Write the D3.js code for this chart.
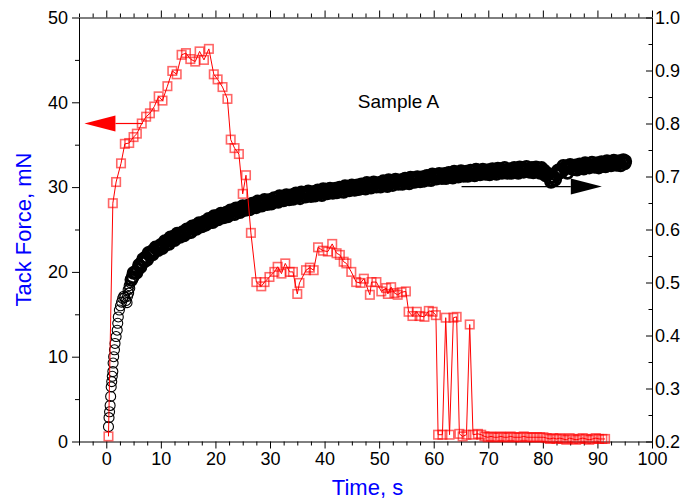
<!DOCTYPE html>
<html>
<head>
<meta charset="utf-8">
<script src="https://cdn.jsdelivr.net/npm/d3@7"></script>
<style>
  body { margin: 0; background: #fff; }
  svg { display: block; font-family: "Liberation Sans", Arial, sans-serif; }
  .axis text { font-size: 18px; fill: #000; }
  .axis path, .axis line { stroke: #000; stroke-width: 1; }
</style>
</head>
<body>
<div id="chart"></div>
<script>
// tack force (left axis, mN) vs time
const forceData = [
  [0.4,0.6],[1.2,28.1],[1.8,30.6],[2.7,32.8],[3.4,35.1],[4.2,35.2],[5.0,35.9],[5.6,36.3],
  [6.5,37.5],[7.3,38.3],[8.0,38.7],[8.8,39.5],[9.6,40.7],[10.3,40.2],[11.2,41.9],[12.1,43.7],
  [12.9,43.3],[13.8,45.6],[14.6,45.8],[15.4,45.1],[16.3,44.8],[17.1,46.0],[17.9,45.0],[18.8,46.3],
  [19.7,43.3],[20.4,42.7],[21.3,41.8],[22.2,40.4],[22.8,35.6],[23.5,34.6],[24.3,33.9],[25.0,29.2],
  [25.6,31.4],[26.5,24.6],[27.5,18.8],[28.4,18.3],[29.0,18.8],[29.9,19.4],[30.8,20.0],[31.4,20.6],
  [32.1,19.8],[32.8,21.0],[33.6,20.0],[34.2,20.0],[35.0,17.4],[35.4,18.7],[36.6,20.2],[37.3,20.5],
  [38.0,20.2],[38.8,22.9],[39.7,22.5],[40.6,22.4],[41.4,23.3],[42.2,22.2],[42.8,22.0],[43.5,21.2],
  [44.0,21.0],[44.9,20.0],[45.8,18.8],[46.6,18.7],[47.2,19.2],[48.3,17.3],[48.6,18.8],[49.5,18.8],
  [50.4,17.7],[51.3,18.1],[51.6,17.4],[52.2,18.2],[52.8,17.5],[53.4,17.3],[54.1,17.6],[54.9,17.7],
  [55.4,15.3],[56.1,14.8],[56.9,15.3],[57.4,14.8],[58.3,14.7],[59.1,15.4],[59.8,15.3],[60.4,14.9],
  [60.8,0.8],[61.6,0.8],[62.2,14.6],[62.9,0.8],[63.6,14.6],[64.2,14.7],[64.7,0.9],[65.3,0.6],
  [66.0,0.8],[66.6,13.8],[67.2,0.8],[68.1,0.9],[68.7,0.8],[69.3,0.6],[69.9,0.5],[70.5,0.6],
  [71.1,0.5],[71.7,0.5],[72.3,0.6],[72.9,0.5],[73.5,0.5],[74.1,0.6],[74.7,0.5],[75.3,0.5],
  [75.9,0.5],[76.5,0.6],[77.1,0.5],[77.7,0.5],[78.3,0.5],[78.9,0.5],[79.5,0.5],[80.1,0.5],
  [80.7,0.4],[81.3,0.3],[81.9,0.4],[82.5,0.3],[83.1,0.4],[83.7,0.3],[84.3,0.2],[84.9,0.4],
  [85.5,0.3],[86.1,0.2],[86.7,0.3],[87.3,0.4],[87.9,0.3],[88.5,0.2],[89.1,0.3],[89.7,0.4],
  [90.3,0.3],[90.9,0.3],[91.4,0.3]
];

// second series on the right axis (0.2 - 1.0), dense open circles
const rightData = [
  [0.4,0.228],[0.5,0.245],[0.6,0.256],[0.7,0.268],[0.8,0.285],[0.9,0.303],[1.0,0.313],[1.1,0.323],
  [1.2,0.332],[1.25,0.348],[1.35,0.360],[1.5,0.373],[1.6,0.385],[1.8,0.398],[2.0,0.410],[2.1,0.423],
  [2.2,0.435],[2.4,0.448],[2.6,0.456],[2.8,0.463],[3.0,0.470],[3.2,0.474],[3.4,0.472],[3.6,0.466],
  [3.8,0.462],[3.9,0.474],[4.0,0.486],[4.1,0.480],[4.2,0.494],[4.3,0.489],[4.4,0.500],[4.6,0.505],
  [4.8,0.510],
  [5.00,0.518],[5.25,0.519],[5.50,0.518],[5.75,0.524],[6.00,0.533],[6.25,0.529],[6.50,0.537],[6.75,0.544],
  [7.00,0.540],[7.25,0.548],[7.50,0.543],[7.75,0.556],[8.00,0.552],[8.25,0.558],[8.50,0.553],[8.75,0.559],
  [9.00,0.566],[9.25,0.564],[9.50,0.561],[9.75,0.565],[10.00,0.571],[10.25,0.565],[10.50,0.572],[10.75,0.578],
  [11.00,0.572],[11.25,0.579],[11.50,0.573],[11.75,0.585],[12.00,0.580],[12.25,0.586],[12.50,0.580],[12.75,0.586],
  [13.00,0.592],[13.25,0.590],[13.50,0.586],[13.75,0.589],[14.00,0.595],[14.25,0.589],[14.50,0.595],[14.75,0.600],
  [15.00,0.594],[15.25,0.601],[15.50,0.595],[15.75,0.606],[16.00,0.601],[16.25,0.607],[16.50,0.601],[16.75,0.606],
  [17.00,0.612],[17.25,0.610],[17.50,0.606],[17.75,0.609],[18.00,0.615],[18.25,0.609],[18.50,0.615],[18.75,0.620],
  [19.00,0.614],[19.25,0.620],[19.50,0.614],[19.75,0.625],[20.00,0.620],[20.25,0.625],[20.50,0.619],[20.75,0.624],
  [21.00,0.630],[21.25,0.627],[21.50,0.623],[21.75,0.626],[22.00,0.632],[22.25,0.625],[22.50,0.631],[22.75,0.636],
  [23.00,0.630],[23.25,0.636],[23.50,0.629],[23.75,0.640],[24.00,0.635],[24.25,0.640],[24.50,0.633],[24.75,0.638],
  [25.00,0.644],[25.25,0.641],[25.50,0.637],[25.75,0.640],[26.00,0.645],[26.25,0.638],[26.50,0.644],[26.75,0.649],
  [27.00,0.642],[27.25,0.648],[27.50,0.642],[27.75,0.653],[28.00,0.647],[28.25,0.652],[28.50,0.645],[28.75,0.650],
  [29.00,0.656],[29.25,0.653],[29.50,0.648],[29.75,0.651],[30.00,0.656],[30.25,0.649],[30.50,0.654],[30.75,0.659],
  [31.00,0.653],[31.25,0.659],[31.50,0.652],[31.75,0.663],[32.00,0.657],[32.25,0.662],[32.50,0.655],[32.75,0.660],
  [33.00,0.665],[33.25,0.662],[33.50,0.657],[33.75,0.660],[34.00,0.665],[34.25,0.658],[34.50,0.663],[34.75,0.668],
  [35.00,0.661],[35.25,0.666],[35.50,0.659],[35.75,0.670],[36.00,0.664],[36.25,0.669],[36.50,0.662],[36.75,0.667],
  [37.00,0.672],[37.25,0.668],[37.50,0.663],[37.75,0.666],[38.00,0.671],[38.25,0.664],[38.50,0.669],[38.75,0.674],
  [39.00,0.667],[39.25,0.672],[39.50,0.665],[39.75,0.676],[40.00,0.670],[40.25,0.675],[40.50,0.668],[40.75,0.672],
  [41.00,0.677],[41.25,0.674],[41.50,0.669],[41.75,0.672],[42.00,0.677],[42.25,0.670],[42.50,0.675],[42.75,0.679],
  [43.00,0.672],[43.25,0.678],[43.50,0.671],[43.75,0.682],[44.00,0.676],[44.25,0.681],[44.50,0.674],[44.75,0.678],
  [45.00,0.683],[45.25,0.680],[45.50,0.675],[45.75,0.678],[46.00,0.683],[46.25,0.676],[46.50,0.681],[46.75,0.685],
  [47.00,0.678],[47.25,0.684],[47.50,0.677],[47.75,0.688],[48.00,0.682],[48.25,0.686],[48.50,0.679],[48.75,0.684],
  [49.00,0.689],[49.25,0.686],[49.50,0.681],[49.75,0.683],[50.00,0.688],[50.25,0.681],[50.50,0.686],[50.75,0.691],
  [51.00,0.684],[51.25,0.689],[51.50,0.682],[51.75,0.693],[52.00,0.687],[52.25,0.691],[52.50,0.684],[52.75,0.689],
  [53.00,0.694],[53.25,0.691],[53.50,0.686],[53.75,0.688],[54.00,0.693],[54.25,0.686],[54.50,0.691],[54.75,0.696],
  [55.00,0.689],[55.25,0.694],[55.50,0.687],[55.75,0.698],[56.00,0.692],[56.25,0.697],[56.50,0.690],[56.75,0.694],
  [57.00,0.699],[57.25,0.696],[57.50,0.691],[57.75,0.694],[58.00,0.699],[58.25,0.692],[58.50,0.697],[58.75,0.701],
  [59.00,0.694],[59.25,0.700],[59.50,0.693],[59.75,0.704],[60.00,0.698],[60.25,0.702],[60.50,0.696],[60.75,0.700],
  [61.00,0.705],[61.25,0.702],[61.50,0.697],[61.75,0.700],[62.00,0.705],[62.25,0.697],[62.50,0.702],[62.75,0.707],
  [63.00,0.700],[63.25,0.705],[63.50,0.698],[63.75,0.709],[64.00,0.703],[64.25,0.707],[64.50,0.700],[64.75,0.705],
  [65.00,0.710],[65.25,0.706],[65.50,0.701],[65.75,0.704],[66.00,0.709],[66.25,0.701],[66.50,0.706],[66.75,0.711],
  [67.00,0.704],[67.25,0.709],[67.50,0.702],[67.75,0.713],[68.00,0.707],[68.25,0.711],[68.50,0.704],[68.75,0.708],
  [69.00,0.713],[69.25,0.710],[69.50,0.705],[69.75,0.707],[70.00,0.712],[70.25,0.704],[70.50,0.709],[70.75,0.714],
  [71.00,0.707],[71.25,0.712],[71.50,0.705],[71.75,0.715],[72.00,0.709],[72.25,0.714],[72.50,0.707],[72.75,0.711],
  [73.00,0.716],[73.25,0.712],[73.50,0.707],[73.75,0.709],[74.00,0.714],[74.25,0.707],[74.50,0.712],[74.75,0.716],
  [75.00,0.709],[75.25,0.714],[75.50,0.707],[75.75,0.717],[76.00,0.711],[76.25,0.716],[76.50,0.709],[76.75,0.713],
  [77.00,0.718],[77.25,0.714],[77.50,0.709],[77.75,0.711],[78.00,0.716],[78.25,0.708],[78.50,0.713],[78.75,0.717],
  [79.00,0.710],[79.25,0.715],[79.50,0.707],[79.75,0.716],[80.00,0.709],[80.25,0.711],[80.50,0.702],[80.75,0.703],
  [81.00,0.705],[81.25,0.698],[81.50,0.690],[81.75,0.692],[82.00,0.699],[82.25,0.694],[82.50,0.703],[82.75,0.711],
  [83.00,0.707],[83.25,0.714],[83.50,0.709],[83.75,0.720],[84.00,0.715],[84.25,0.719],[84.50,0.707],[84.75,0.717],
  [85.00,0.722],[85.25,0.719],[85.50,0.714],[85.75,0.716],[86.00,0.721],[86.25,0.713],[86.50,0.719],[86.75,0.723],
  [87.00,0.716],[87.25,0.721],[87.50,0.715],[87.75,0.725],[88.00,0.719],[88.25,0.723],[88.50,0.717],[88.75,0.721],
  [89.00,0.726],[89.25,0.722],[89.50,0.718],[89.75,0.720],[90.00,0.725],[90.25,0.717],[90.50,0.723],[90.75,0.727],
  [91.00,0.720],[91.25,0.725],[91.50,0.719],[91.75,0.729],[92.00,0.723],[92.25,0.727],[92.50,0.721],[92.75,0.725],
  [93.00,0.730],[93.25,0.726],[93.50,0.722],[93.75,0.724],[94.00,0.729],[94.25,0.721],[94.50,0.727],[94.75,0.731],
  [95.00,0.725],[95.1,0.729]
];

const xMajorTicks = [0, 10, 20, 30, 40, 50, 60, 70, 80, 90, 100];
const xMinorTicks = [-5, -2.5, 2.5, 5, 7.5, 12.5, 15, 17.5, 22.5, 25, 27.5, 32.5, 35, 37.5,
  42.5, 45, 47.5, 52.5, 55, 57.5, 62.5, 65, 67.5, 72.5, 75, 77.5, 82.5, 85, 87.5, 92.5, 95, 97.5];
const yLeftMajor = [0, 10, 20, 30, 40, 50];
const yLeftMinor = [5, 15, 25, 35, 45];
const yRightMajor = [0.2, 0.3, 0.4, 0.5, 0.6, 0.7, 0.8, 0.9, 1.0];
const yRightMinor = [0.25, 0.35, 0.45, 0.55, 0.65, 0.75, 0.85, 0.95];

const width = 686, height = 502;
const margin = { top: 17.5, right: 34, bottom: 60.5, left: 79 };
const innerW = width - margin.left - margin.right;
const innerH = height - margin.top - margin.bottom;

const svg = d3.select("#chart").append("svg")
  .attr("width", width)
  .attr("height", height);

const g = svg.append("g")
  .attr("transform", `translate(${margin.left},${margin.top})`);

const x = d3.scaleLinear().domain([-5, 100]).range([0, innerW]);
const yL = d3.scaleLinear().domain([0, 50]).range([innerH, 0]);
const yR = d3.scaleLinear().domain([0.2, 1.0]).range([innerH, 0]);

// axes: major ticks with labels, minor ticks without
function addAxis(axisFn, scale, major, minor, transform, inner, fmt) {
  const ax = g.append("g").attr("class", "axis").attr("transform", transform);
  ax.call(axisFn(scale).tickValues(major).tickSizeOuter(0)
    .tickSizeInner(inner ? -6 : 7).tickPadding(inner ? 3 : 4).tickFormat(fmt));
  const mn = g.append("g").attr("class", "axis").attr("transform", transform);
  mn.call(axisFn(scale).tickValues(minor).tickSizeOuter(0)
    .tickSizeInner(inner ? -3.5 : 4).tickFormat(""));
  mn.select(".domain").remove();
  return ax;
}

addAxis(d3.axisBottom, x, xMajorTicks, xMinorTicks, `translate(0,${innerH})`, false, d3.format("d"));
addAxis(d3.axisTop, x, xMajorTicks, xMinorTicks, "translate(0,0)", false, () => "");
addAxis(d3.axisLeft, yL, yLeftMajor, yLeftMinor, "translate(0,0)", false, d3.format("d"));
addAxis(d3.axisRight, yR, yRightMajor, yRightMinor, `translate(${innerW},0)`, true, d3.format(".1f"));

g.selectAll(".axis text").style("font-size", "18px");

// axis titles
svg.append("text")
  .attr("transform", `translate(31,${margin.top + innerH / 2}) rotate(-90)`)
  .attr("text-anchor", "middle")
  .style("font-size", "22px")
  .style("fill", "#0000ff")
  .text("Tack Force, mN");

svg.append("text")
  .attr("x", margin.left + innerW / 2 + 2)
  .attr("y", 495)
  .attr("text-anchor", "middle")
  .style("font-size", "22px")
  .style("fill", "#0000ff")
  .text("Time, s");

// right-axis series: open black circles (heavier rings where they pile up into a band)
g.append("g")
  .selectAll("circle")
  .data(rightData)
  .join("circle")
  .attr("cx", d => x(d[0]))
  .attr("cy", d => yR(d[1]))
  .attr("r", d => d[0] < 4.5 ? 5 : 5.6)
  .attr("fill", "none")
  .attr("stroke", "#000")
  .attr("stroke-width", d => d[0] < 4.5 ? 1.1 : 2.6);

// tack force: red line + squares
const line = d3.line().x(d => x(d[0])).y(d => yL(d[1]));
g.append("path")
  .datum(forceData)
  .attr("d", line)
  .attr("fill", "none")
  .attr("stroke", "#ff0000")
  .attr("stroke-width", 1);

const sq = 8.5;
g.append("g")
  .selectAll("rect")
  .data(forceData)
  .join("rect")
  .attr("x", d => x(d[0]) - sq / 2)
  .attr("y", d => yL(d[1]) - sq / 2)
  .attr("width", sq)
  .attr("height", sq)
  .attr("fill", "none")
  .attr("stroke", "#ff0000")
  .attr("stroke-opacity", 0.6)
  .attr("stroke-width", 1.6);

// arrows pointing to the axis each series uses
function arrow(x0, x1, yPix, color) {
  const dir = Math.sign(x1 - x0);
  const headLen = 31, half = 8;
  g.append("line")
    .attr("x1", x0).attr("x2", x1 - dir * headLen)
    .attr("y1", yPix).attr("y2", yPix)
    .attr("stroke", color).attr("stroke-width", 1.2);
  g.append("path")
    .attr("d", `M${x1},${yPix} L${x1 - dir * headLen},${yPix - half} L${x1 - dir * headLen},${yPix + half} Z`)
    .attr("fill", color);
}
arrow(x(6.7), x(-4.0), yL(37.5), "#ff0000");
arrow(x(65.1), x(90.8), yR(0.681), "#000");

g.append("text")
  .attr("x", x(46.1))
  .attr("y", yL(39.3))
  .style("font-size", "19px")
  .text("Sample A");
</script>
</body>
</html>
